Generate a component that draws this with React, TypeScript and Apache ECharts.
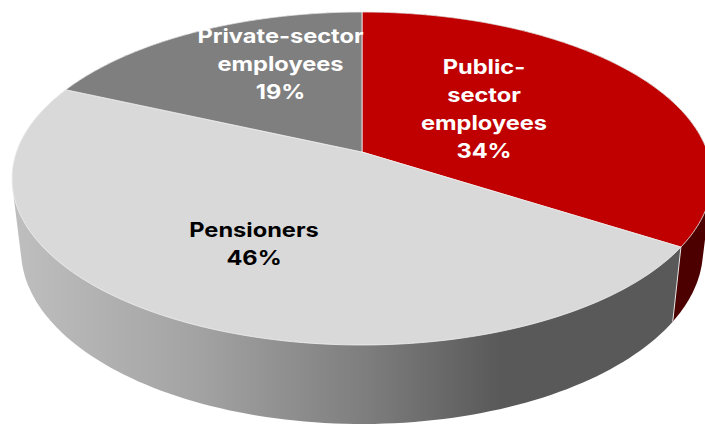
import React, { useEffect, useRef } from "react";
import * as echarts from "echarts";

const categories = ["Public-\nsector\nemployees", "Pensioners", "Private-sector\nemployees"];
const percentLabels = ["34%", "46%", "19%"];
// Sweep of each slice as measured on the picture (the printed labels are rounded and sum to 99).
const sliceShares = [34, 47.7, 18.3];
const topColors = ["#c00000", "#d9d9d9", "#7f7f7f"];
const textColors = ["#ffffff", "#000000", "#ffffff"];
const labelAnchors = [
  [484, 108.5],
  [254, 243.5],
  [280.5, 64],
];

const TOP = { cx: 362, cy: 178.5, rx: 350, ry: 166.5 };
const BOTTOM = { cx: 362, cy: 250, ry: 174, rx: 341 };
const TILT = 0.159;
const total = sliceShares.reduce((a, b) => a + b, 0);

function project(t: number, e: typeof TOP) {
  const ux = Math.sin(t);
  const uy = -Math.cos(t);
  const d = 1 - TILT * uy;
  const nx = (ux * Math.sqrt(1 - TILT * TILT)) / d;
  const ny = (uy - TILT) / d;
  return [e.cx + e.rx * nx, e.cy + e.ry * ny];
}

function apex() {
  return [TOP.cx, TOP.cy - TILT * TOP.ry];
}

function sliceRange(i: number) {
  const before = sliceShares.slice(0, i).reduce((a, b) => a + b, 0);
  return [(before / total) * Math.PI * 2, ((before + sliceShares[i]) / total) * Math.PI * 2];
}

function arc(i: number, e: typeof TOP) {
  const [start, end] = sliceRange(i);
  const n = 120;
  const pts: number[][] = [];
  for (let k = 0; k <= n; k++) pts.push(project(start + ((end - start) * k) / n, e));
  return pts;
}

function hull(points: number[][]) {
  const pts = [...points].sort((a, b) => a[0] - b[0] || a[1] - b[1]);
  const cross = (o: number[], a: number[], b: number[]) =>
    (a[0] - o[0]) * (b[1] - o[1]) - (a[1] - o[1]) * (b[0] - o[0]);
  const build = (list: number[][]) => {
    const out: number[][] = [];
    for (const p of list) {
      while (out.length >= 2 && cross(out[out.length - 2], out[out.length - 1], p) <= 0) out.pop();
      out.push(p);
    }
    out.pop();
    return out;
  };
  return [...build(pts), ...build([...pts].reverse())];
}

const wallFills = () => [
  "#4d0000",
  new echarts.graphic.LinearGradient(
    12,
    0,
    690,
    0,
    [
      { offset: 0, color: "#bfbfbf" },
      { offset: 0.28, color: "#a2a2a2" },
      { offset: 0.52, color: "#7e7e7e" },
      { offset: 0.72, color: "#595959" },
      { offset: 1, color: "#595959" },
    ],
    true,
  ),
  "#7f7f7f",
];

export default function App() {
  const ref = useRef<HTMLDivElement>(null);
  useEffect(() => {
    document.body.style.margin = "0";
    const chart = echarts.init(ref.current!, undefined, { renderer: "svg" });
    const fills = wallFills();
    chart.setOption({
      animation: false,
      series: [
        {
          type: "custom",
          coordinateSystem: "none",
          silent: true,
          z: 1,
          data: sliceShares,
          renderItem: (params: any) => {
            const i = params.dataIndex;
            const top = arc(i, TOP);
            const bottom = arc(i, BOTTOM);
            const children: any[] = [
              {
                type: "polygon",
                shape: { points: hull([...top, ...bottom]) },
                style: { fill: fills[i] },
              },
            ];
            if (i === 1) {
              children.push({
                type: "line",
                shape: { x1: top[0][0], y1: top[0][1], x2: bottom[0][0], y2: bottom[0][1] },
                style: { stroke: "#e8e8e8", lineWidth: 1 },
              });
            }
            return { type: "group", children };
          },
        },
        {
          type: "custom",
          coordinateSystem: "none",
          silent: true,
          z: 2,
          data: sliceShares,
          renderItem: (params: any) => {
            const i = params.dataIndex;
            const [lx, ly] = labelAnchors[i];
            return {
              type: "group",
              children: [
                {
                  type: "polygon",
                  shape: { points: [apex(), ...arc(i, TOP)] },
                  style: { fill: topColors[i], stroke: "#f0f0f0", lineWidth: 0.8 },
                },
                {
                  type: "text",
                  x: lx,
                  y: ly,
                  z2: 10,
                  scaleX: 1.18,
                  style: {
                    text: `${categories[i]}\n${percentLabels[i]}`,
                    fill: textColors[i],
                    font: '700 20px Inter, "Noto Sans", sans-serif',
                    lineHeight: 28,
                    align: "center",
                    verticalAlign: "middle",
                  },
                },
              ],
            };
          },
        },
      ],
    });
    return () => chart.dispose();
  }, []);
  return <div ref={ref} style={{ width: 705, height: 426 }} />;
}
